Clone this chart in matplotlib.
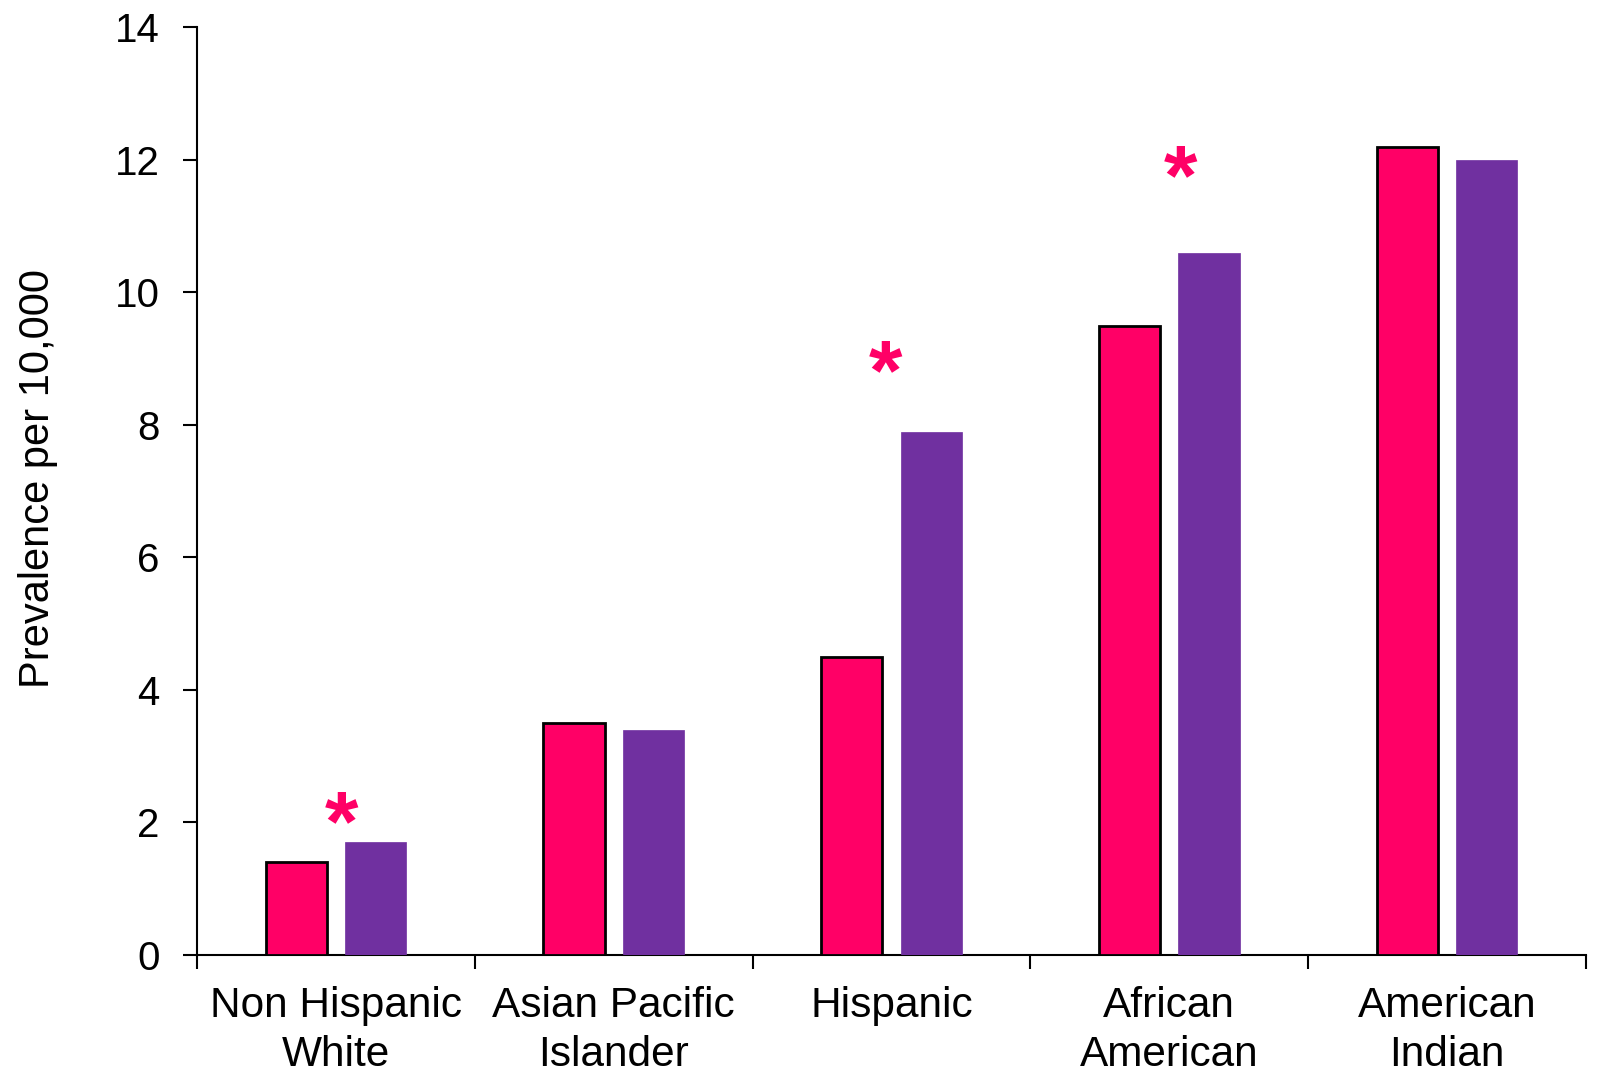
import matplotlib

matplotlib.use("Agg")
import matplotlib.pyplot as plt
import numpy as np

groups = ["Non Hispanic\nWhite", "Asian Pacific\nIslander", "Hispanic",
          "African\nAmerican", "American\nIndian"]
period1 = [1.4, 3.5, 4.5, 9.5, 12.2]
period2 = [1.7, 3.4, 7.9, 10.6, 12.0]
# significance marks: height of the asterisk per group (None = not significant)
sig_y = [1.92, None, 8.72, 11.67, None]
sig_dx = [0.02, 0.0, -0.02, 0.04, 0.0]

PINK = "#FF0066"
PURPLE = "#7030A0"

plt.rcParams["font.family"] = ["Liberation Sans", "DejaVu Sans"]

fig = plt.figure(figsize=(15.98, 10.70), dpi=100)
ax = fig.add_axes([0.1233, 0.1075, 0.8692, 0.8668])

centers = np.arange(len(groups)) + 0.5
w = 0.22
ax.bar(centers - 0.143, period1, width=w, color=PINK, edgecolor="black", lw=2, zorder=3)
ax.bar(centers + 0.143, period2, width=w, color=PURPLE, edgecolor=PURPLE, lw=0.5, zorder=3)

for x, y, dx in zip(centers, sig_y, sig_dx):
    if y is not None:
        ax.text(x + dx, y, "*", color=PINK, fontsize=62, fontweight="bold",
                ha="center", va="center")

ax.set_xlim(0, len(groups))
ax.set_ylim(0, 14)
ax.set_yticks(range(0, 15, 2))
ax.set_xticks(range(len(groups) + 1))
ax.set_xticklabels([])
ax.set_xticks(centers, minor=True)
ax.set_xticklabels(groups, minor=True, fontsize=30.5, linespacing=1.3)
ax.tick_params(axis="x", which="minor", length=0, pad=22)
ax.tick_params(axis="x", which="major", length=10, width=1.5, direction="out")
ax.tick_params(axis="y", length=10, width=1.5, direction="out", labelsize=29, pad=17)

for s in ["top", "right"]:
    ax.spines[s].set_visible(False)
for s in ["left", "bottom"]:
    ax.spines[s].set_linewidth(1.5)

fig.text(0.024, 0.553, "Prevalence per 10,000", rotation=90, ha="center", va="center",
         fontsize=30, family=["Liberation Sans Narrow", "Liberation Sans"])

fig.savefig("out.png", dpi=100)
